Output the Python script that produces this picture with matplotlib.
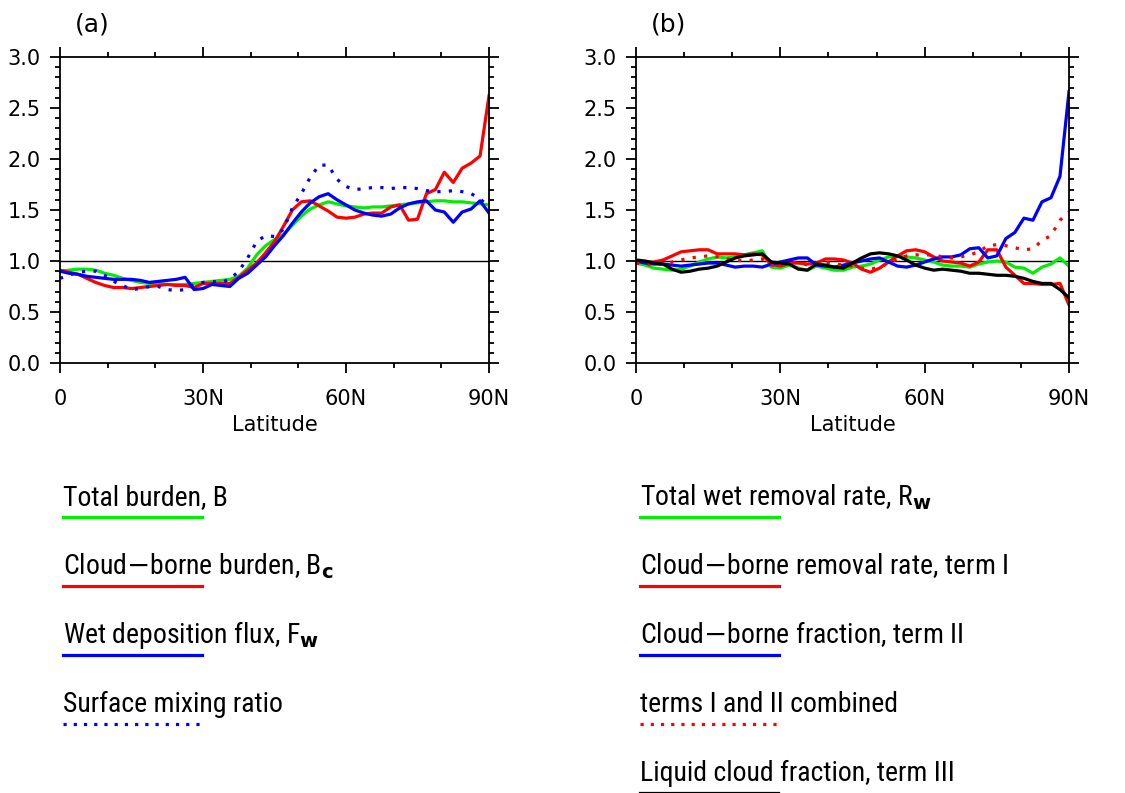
import numpy as np
import matplotlib
matplotlib.use("Agg")
import matplotlib.pyplot as plt
from matplotlib import font_manager
from matplotlib.ticker import MultipleLocator, FixedLocator

plt.rcParams['font.family'] = ['DejaVu Sans']

# latitude grid (about 1.9 deg)
lat = np.linspace(0, 90, 49)

# panel (a): normalised ratios
burden_B = [0.90, 0.91, 0.92, 0.92, 0.91, 0.88, 0.86, 0.83, 0.81, 0.79, 0.78, 0.78, 0.77, 0.77, 0.77, 0.78, 0.79,
            0.80, 0.81, 0.82, 0.85, 0.93, 1.06, 1.15, 1.21, 1.26, 1.35, 1.44, 1.51, 1.55, 1.58, 1.56, 1.54, 1.53,
            1.52, 1.53, 1.53, 1.54, 1.55, 1.56, 1.57, 1.58, 1.59, 1.59, 1.58, 1.58, 1.57, 1.56, 1.55]
burden_Bc = [0.91, 0.89, 0.87, 0.83, 0.79, 0.76, 0.74, 0.74, 0.73, 0.74, 0.75, 0.76, 0.77, 0.76, 0.76, 0.74, 0.78,
             0.78, 0.78, 0.78, 0.84, 0.91, 0.98, 1.08, 1.19, 1.34, 1.50, 1.58, 1.59, 1.54, 1.49, 1.43, 1.42, 1.43,
             1.46, 1.47, 1.47, 1.53, 1.55, 1.40, 1.41, 1.66, 1.70, 1.87, 1.77, 1.91, 1.96, 2.03, 2.62]
wetdep_Fw = [0.90, 0.88, 0.87, 0.85, 0.84, 0.83, 0.82, 0.82, 0.82, 0.81, 0.79, 0.80, 0.81, 0.82, 0.84, 0.72, 0.73,
             0.77, 0.76, 0.75, 0.83, 0.88, 0.96, 1.04, 1.15, 1.25, 1.37, 1.48, 1.57, 1.63, 1.66, 1.60, 1.55, 1.50,
             1.47, 1.45, 1.44, 1.46, 1.52, 1.56, 1.58, 1.59, 1.50, 1.48, 1.38, 1.48, 1.51, 1.59, 1.47]
sfc_mix = [0.83, 0.86, 0.89, 0.90, 0.90, 0.86, 0.80, 0.76, 0.72, 0.73, 0.75, 0.75, 0.72, 0.71, 0.72, 0.77, 0.79,
           0.80, 0.79, 0.82, 0.90, 1.03, 1.19, 1.25, 1.24, 1.31, 1.52, 1.66, 1.82, 1.94, 1.94, 1.80, 1.73, 1.70,
           1.71, 1.72, 1.72, 1.71, 1.72, 1.72, 1.71, 1.69, 1.68, 1.68, 1.69, 1.68, 1.66, 1.61, 1.53]

# panel (b)
wet_rate_Rw = [0.98, 0.96, 0.93, 0.92, 0.91, 0.92, 0.95, 0.99, 1.02, 1.04, 1.03, 1.04, 1.06, 1.08, 1.10, 0.94, 0.93,
               0.96, 0.93, 0.91, 0.95, 0.93, 0.91, 0.91, 0.94, 0.95, 0.97, 1.01, 1.04, 1.05, 1.04, 1.03, 1.01, 0.99,
               0.96, 0.95, 0.95, 0.94, 0.97, 0.99, 1.00, 0.99, 0.94, 0.93, 0.88, 0.94, 0.97, 1.03, 0.95]
term_I = [1.00, 0.99, 0.99, 1.01, 1.05, 1.09, 1.10, 1.11, 1.11, 1.07, 1.07, 1.07, 1.06, 1.07, 1.06, 0.97, 0.95,
          0.98, 0.98, 0.97, 0.98, 1.02, 1.02, 1.01, 0.98, 0.92, 0.89, 0.93, 0.99, 1.05, 1.10, 1.11, 1.09, 1.04,
          1.00, 0.99, 0.98, 0.95, 0.99, 1.11, 1.11, 0.94, 0.86, 0.78, 0.78, 0.77, 0.77, 0.78, 0.57]
term_II = [1.00, 0.98, 0.97, 0.97, 0.96, 0.95, 0.96, 0.97, 0.98, 0.98, 0.96, 0.94, 0.95, 0.95, 0.94, 0.97, 0.99,
           1.01, 1.03, 1.03, 0.96, 0.95, 0.94, 0.96, 0.98, 1.00, 1.02, 1.03, 0.99, 0.95, 0.94, 0.96, 0.99, 1.02,
           1.04, 1.04, 1.06, 1.12, 1.13, 1.03, 1.05, 1.22, 1.28, 1.42, 1.40, 1.58, 1.62, 1.83, 2.66]
terms_I_II = [0.98, 0.97, 0.96, 0.97, 0.99, 1.01, 1.03, 1.04, 1.05, 1.04, 1.02, 1.01, 1.00, 1.01, 1.02, 0.96, 0.95,
              0.98, 0.99, 0.96, 0.97, 0.99, 0.97, 0.96, 0.95, 0.93, 0.92, 0.94, 0.98, 1.02, 1.05, 1.06, 1.06, 1.06,
              1.04, 1.03, 1.04, 1.06, 1.09, 1.15, 1.16, 1.15, 1.13, 1.11, 1.12, 1.20, 1.25, 1.40, 1.48]
term_III = [1.01, 1.00, 0.98, 0.97, 0.92, 0.89, 0.90, 0.92, 0.93, 0.95, 0.99, 1.03, 1.05, 1.06, 1.07, 0.99, 0.98,
            0.97, 0.92, 0.91, 0.97, 0.96, 0.94, 0.93, 0.98, 1.03, 1.07, 1.08, 1.07, 1.05, 1.01, 0.96, 0.93, 0.91,
            0.92, 0.91, 0.90, 0.88, 0.88, 0.87, 0.86, 0.86, 0.85, 0.83, 0.80, 0.78, 0.78, 0.72, 0.64]

GREEN = '#00ee00'
RED = '#ff0000'
BLUE = '#0000ff'
LW = 2.3
DOT = (0, (1, 2.6))

xticks = [0, 30, 60, 90]
xticklabels = ['0', '30N', '60N', '90N']

# narrow font for the legend text if one is around
leg_font = dict(family=['DejaVu Sans'], size=16)
try:
    fp = font_manager.FontProperties(family='DejaVu Sans', stretch='condensed')
    if 'Condensed' in font_manager.findfont(fp, fallback_to_default=False):
        leg_font = dict(family=['DejaVu Sans'], stretch='condensed', size=18)
except Exception:
    pass
for name in ['Liberation Sans Narrow', 'Roboto Condensed', 'Open Sans Condensed']:
    try:
        font_manager.findfont(font_manager.FontProperties(family=name), fallback_to_default=False)
        leg_font = dict(family=[name, 'DejaVu Sans'], size=20)
        break
    except Exception:
        pass

fig = plt.figure(figsize=(11.25, 7.93), dpi=100)


def setup(ax, tag):
    ax.set_xlim(0, 90)
    ax.set_ylim(0, 3)
    ax.axhline(1.0, color='black', lw=1.0, zorder=1)
    ax.xaxis.set_major_locator(FixedLocator(xticks))
    ax.set_xticklabels(xticklabels)
    ax.xaxis.set_minor_locator(MultipleLocator(10))
    ax.yaxis.set_major_locator(MultipleLocator(0.5))
    ax.yaxis.set_minor_locator(MultipleLocator(0.1))
    ax.yaxis.set_major_formatter(plt.FormatStrFormatter('%.1f'))
    ax.tick_params(which='both', direction='out', top=True, right=True, width=1.3, labelsize=15)
    ax.tick_params(which='major', length=7)
    ax.tick_params(axis='x', which='major', pad=12)
    ax.tick_params(axis='y', which='major', pad=7)
    ax.tick_params(which='minor', length=3.5)
    for s in ax.spines.values():
        s.set_linewidth(1.3)
    ax.set_xlabel('Latitude', fontsize=15, labelpad=4)
    ax.text(0.075, 1.105, tag, transform=ax.transAxes, fontsize=18, va='center', ha='center')


ax1 = fig.add_axes([60 / 1125, 1 - 363 / 793, 429 / 1125, 306 / 793])
setup(ax1, '(a)')
ax1.plot(lat, burden_B, color=GREEN, lw=LW)
ax1.plot(lat, burden_Bc, color=RED, lw=LW)
ax1.plot(lat, wetdep_Fw, color=BLUE, lw=LW)
ax1.plot(lat, sfc_mix, color=BLUE, lw=LW, linestyle=DOT)

ax2 = fig.add_axes([636 / 1125, 1 - 363 / 793, 433 / 1125, 306 / 793])
setup(ax2, '(b)')
ax2.plot(lat, wet_rate_Rw, color=GREEN, lw=LW)
ax2.plot(lat, term_I, color=RED, lw=LW)
ax2.plot(lat, term_II, color=BLUE, lw=LW)
ax2.plot(lat, terms_I_II, color=RED, lw=LW, linestyle=DOT)
ax2.plot(lat, term_III, color='black', lw=LW)

# legends drawn below the panels, NCL style: text above a short line
leg = fig.add_axes([0, 0, 1, 1])
leg.set_xlim(0, 1125)
leg.set_ylim(793, 0)
leg.axis('off')

left_items = [('Total burden, B', GREEN, '-'),
              (r'Cloud$-$borne burden, B$_\mathbf{c}$', RED, '-'),
              (r'Wet deposition flux, F$_\mathbf{w}$', BLUE, '-'),
              ('Surface mixing ratio', BLUE, ':')]
right_items = [(r'Total wet removal rate, R$_\mathbf{w}$', GREEN, '-'),
               (r'Cloud$-$borne removal rate, term I', RED, '-'),
               (r'Cloud$-$borne fraction, term II', BLUE, '-'),
               ('terms I and II combined', RED, ':'),
               ('Liquid cloud fraction, term III', 'black', '-')]

for col_x, items in [(63, left_items), (640, right_items)]:
    for i, (label, c, ls) in enumerate(items):
        y_line = 517 + i * 69
        leg.text(col_x, y_line - 12, label, va='baseline', ha='left', **leg_font)
        if ls == ':':
            leg.plot([col_x, col_x + 139], [y_line, y_line], color=c, lw=2.3, linestyle=(0, (1, 2.2)))
        else:
            leg.plot([col_x, col_x + 139], [y_line, y_line], color=c, lw=2.3 if c != 'black' else 1.6)

fig.savefig('out.png', dpi=100)
